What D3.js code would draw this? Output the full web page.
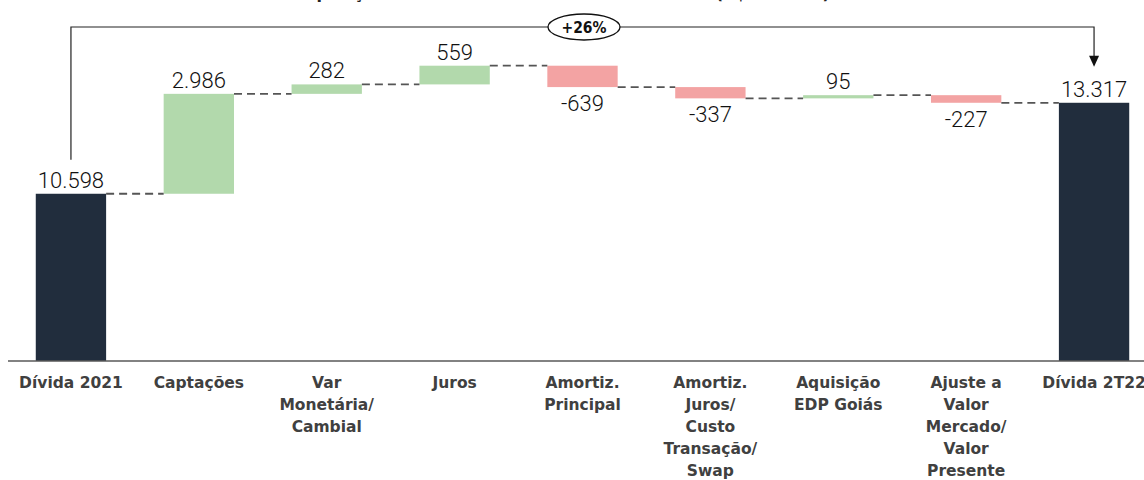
<!DOCTYPE html>
<html>
<head>
<meta charset="utf-8">
<script src="https://d3js.org/d3.v7.min.js"></script>
<style>
  html, body { margin: 0; padding: 0; background: #fff; }
  svg { display: block; }
</style>
</head>
<body>
<div id="chart"></div>
<script>
// data
const categories = [
  "Dívida 2021",
  "Captações",
  "Var|Monetária/|Cambial",
  "Juros",
  "Amortiz.|Principal",
  "Amortiz.|Juros/|Custo|Transação/|Swap",
  "Aquisição|EDP Goiás",
  "Ajuste a|Valor|Mercado/|Valor|Presente",
  "Dívida 2T22"
];
const values = [10598, 2986, 282, 559, -639, -337, 95, -227, 13317];
const kinds = ["total", "delta", "delta", "delta", "delta", "delta", "delta", "delta", "total"];
const growthLabel = "+26%";
const title = "Composição da Dívida Bruta Consolidada – 2T22 (R$ milhões)";

const WIDTH = 1144, HEIGHT = 480;
const BASE_Y = 361;

const svg = d3.select("#chart").append("svg")
  .attr("width", WIDTH)
  .attr("height", HEIGHT);

// running totals -> start / end of each bar
let run = 0;
const bars = values.map((v, i) => {
  let start, end;
  if (kinds[i] === "total") { start = 0; end = v; run = v; }
  else { start = run; end = run + v; run = end; }
  return { cat: categories[i], value: v, kind: kinds[i], start, end };
});

const x = d3.scaleBand()
  .domain(categories)
  .range([7, 1158])
  .paddingInner(0.45)
  .paddingOuter(0.225);

// axis is broken: baseline does not start at zero
const y = d3.scaleLinear()
  .domain([5600, 16000])
  .range([BASE_Y, 13]);

const yc = v => Math.max(y.domain()[0], v);

const fmt = d3.formatLocale({ decimal: ",", thousands: ".", grouping: [3], currency: ["R$", ""], minus: "-" }).format(",d");

const colour = d => d.kind === "total" ? "#212d3d" : (d.value >= 0 ? "#b2d9ac" : "#f3a3a3");

// title (mostly cut off at top)
svg.append("text")
  .attr("x", 277).attr("y", -1)
  .style("font", "bold 16px 'DejaVu Sans', sans-serif")
  .attr("fill", "#222")
  .text(title);

// bars
svg.append("g").selectAll("rect")
  .data(bars)
  .join("rect")
  .attr("x", d => x(d.cat))
  .attr("width", x.bandwidth())
  .attr("y", d => y(Math.max(d.start, d.end)))
  .attr("height", d => y(yc(Math.min(d.start, d.end))) - y(Math.max(d.start, d.end)))
  .attr("fill", colour);

// dashed connectors
svg.append("g").selectAll("line")
  .data(bars.slice(0, -1))
  .join("line")
  .attr("x1", d => x(d.cat) + x.bandwidth())
  .attr("x2", (d, i) => x(bars[i + 1].cat))
  .attr("y1", d => y(d.end))
  .attr("y2", d => y(d.end))
  .attr("stroke", "#555")
  .attr("stroke-width", 1.8)
  .attr("stroke-dasharray", "8,5");

// baseline
svg.append("line")
  .attr("x1", 8).attr("x2", WIDTH)
  .attr("y1", BASE_Y).attr("y2", BASE_Y)
  .attr("stroke", "#595959")
  .attr("stroke-width", 1.5);

// value labels
svg.append("g").selectAll("text")
  .data(bars)
  .join("text")
  .attr("x", d => x(d.cat) + x.bandwidth() / 2)
  .attr("y", d => d.value >= 0 ? y(d.end) - 6 : y(d.end) + 24)
  .attr("text-anchor", "middle")
  .style("font", "300 22px Roboto, sans-serif")
  .attr("fill", "#111")
  .text(d => fmt(d.value));

// category labels
const cl = svg.append("g").selectAll("text")
  .data(bars)
  .join("text")
  .attr("x", d => x(d.cat) + x.bandwidth() / 2)
  .attr("y", 388)
  .attr("text-anchor", "middle")
  .style("font", "bold 15.5px 'DejaVu Sans', sans-serif")
  .attr("fill", "#404040");
cl.selectAll("tspan")
  .data(d => d.cat.split("|").map(t => ({ t, x: x(d.cat) + x.bandwidth() / 2 })))
  .join("tspan")
  .attr("x", d => d.x)
  .attr("dy", (d, i) => i === 0 ? 0 : 22)
  .text(d => d.t);

// growth bracket
const xa = x(categories[0]) + x.bandwidth() / 2;
const xb = x(categories[categories.length - 1]) + x.bandwidth() / 2;
const topY = 27;
const leftBottom = y(values[0]) - 34;
const arrowTip = y(values[values.length - 1]) - 36;

svg.append("path")
  .attr("d", `M${xa},${leftBottom}V${topY}H${xb}V${arrowTip - 10}`)
  .attr("fill", "none")
  .attr("stroke", "#222")
  .attr("stroke-width", 1.2);

svg.append("path")
  .attr("d", `M${xb - 5},${arrowTip - 11}L${xb + 5},${arrowTip - 11}L${xb},${arrowTip}Z`)
  .attr("fill", "#111");

const cx = 584;
svg.append("ellipse")
  .attr("cx", cx).attr("cy", topY)
  .attr("rx", 36).attr("ry", 13)
  .attr("fill", "#fff")
  .attr("stroke", "#111")
  .attr("stroke-width", 1.3);

svg.append("text")
  .attr("x", cx).attr("y", topY + 5.5)
  .attr("text-anchor", "middle")
  .style("font", "bold 15.5px 'DejaVu Sans Condensed', 'DejaVu Sans', sans-serif")
  .attr("fill", "#111")
  .text(growthLabel);
</script>
</body>
</html>
